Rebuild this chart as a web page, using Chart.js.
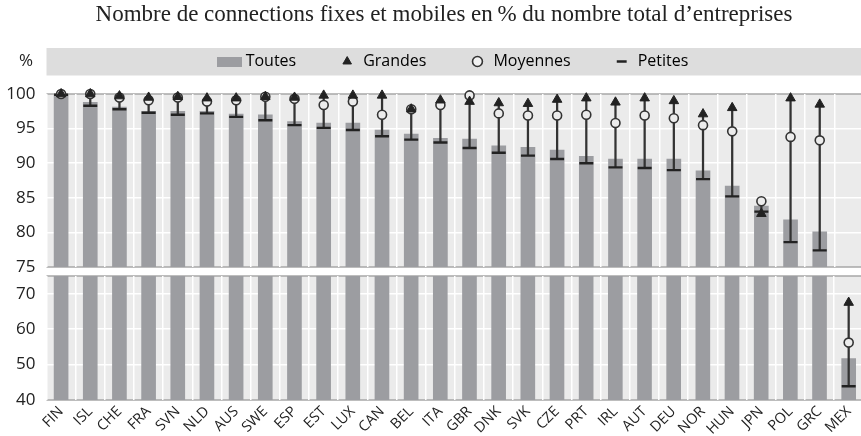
<!DOCTYPE html>
<html>
<head>
<meta charset="utf-8">
<script src="https://cdn.jsdelivr.net/npm/chart.js@4.4.1/dist/chart.umd.min.js"></script>
<style>
  body { margin: 0; background: #fff; }
  #wrap { position: relative; width: 861px; height: 436px; overflow: hidden; }
  #topBox { position: absolute; left: 0; top: 0; width: 864px; height: 272px; }
  #bottomBox { position: absolute; left: 0; top: 272px; width: 864px; height: 164px; }
</style>
</head>
<body>
<div id="wrap">
  <div id="topBox"><canvas id="topChart"></canvas></div>
  <div id="bottomBox"><canvas id="bottomChart"></canvas></div>
</div>
<script>
// Data (values in % of all firms)
const countries = ['FIN', 'ISL', 'CHE', 'FRA', 'SVN', 'NLD', 'AUS', 'SWE', 'ESP', 'EST', 'LUX', 'CAN', 'BEL', 'ITA',
    'GBR', 'DNK', 'SVK', 'CZE', 'PRT', 'IRL', 'AUT', 'DEU', 'NOR', 'HUN', 'JPN', 'POL', 'GRC', 'MEX'];
const toutes = [100, 98.8, 98.1, 97.5, 97.5, 97.5, 97.1, 97.0, 96.0, 95.8, 95.8, 94.8, 94.2, 93.6,
    93.5, 92.5, 92.3, 91.9, 91.0, 90.6, 90.6, 90.6, 88.9, 86.7, 83.8, 81.8, 80.1, 51.7];
const grandes = [100, 100, 99.7, 99.5, 99.6, 99.4, 99.4, 99.6, 99.5, 99.8, 99.8, 99.8, 97.8, 99.1,
    98.9, 98.7, 98.6, 99.2, 99.4, 98.8, 99.4, 99.0, 97.1, 98.0, 82.7, 99.4, 98.5, 67.5];
const moyennes = [100, 100, 99.5, 99.1, 99.5, 98.9, 99.1, 99.6, 99.3, 98.4, 98.9, 97.0, 97.8, 98.4,
    99.8, 97.2, 96.9, 96.9, 97.0, 95.8, 96.9, 96.5, 95.5, 94.6, 84.5, 93.8, 93.3, 56.2];
const petites = [99.9, 98.3, 97.8, 97.3, 97.0, 97.2, 96.7, 96.2, 95.5, 95.1, 94.8, 93.9, 93.4, 93.0,
    92.2, 91.5, 91.1, 90.6, 90.0, 89.4, 89.3, 89.0, 87.7, 85.2, 83.0, 78.6, 77.4, 43.9];

// Axis ticks (broken axis: top panel 75-100, bottom panel 40-75)
const topTicks = [75, 80, 85, 90, 95, 100];
const bottomTicks = [40, 50, 60, 70];

// Colours and fonts
const barColor = '#9c9da1';
const markColor = '#222222';
const panelBg = '#ebebeb';
const bandBg = '#dddddd';
const borderGrey = '#a8a8a8';
const sansFont = "'Open Sans', sans-serif";
Chart.defaults.font.family = sansFont;
Chart.defaults.color = '#222';

// vertical line joining the three size classes of each country
const ranges = countries.map((c, i) => [
    Math.min(petites[i], moyennes[i], grandes[i]),
    Math.max(petites[i], moyennes[i], grandes[i])
]);

// small grey box for the "Toutes" legend entry
const swatch = document.createElement('canvas');
swatch.width = 25;
swatch.height = 10;
const sctx = swatch.getContext('2d');
sctx.fillStyle = barColor;
sctx.fillRect(0, 0, 25, 10);

const legendItems = [
    { text: 'Toutes', pointStyle: swatch, fillStyle: barColor, strokeStyle: barColor, lineWidth: 0 },
    { text: 'Grandes', pointStyle: 'triangle', fillStyle: markColor, strokeStyle: markColor, lineWidth: 1 },
    { text: 'Moyennes', pointStyle: 'circle', fillStyle: '#f2f2f2', strokeStyle: '#333', lineWidth: 1.6 },
    { text: 'Petites', pointStyle: 'line', fillStyle: markColor, strokeStyle: markColor, lineWidth: 2.4 }
];

const buildDatasets = (pointClip) => [
    {
        type: 'line', label: 'Grandes', data: grandes, showLine: false,
        pointStyle: 'triangle', pointRadius: 5.5, pointBackgroundColor: markColor,
        pointBorderColor: markColor, pointBorderWidth: 1, order: 0, clip: pointClip
    },
    {
        type: 'line', label: 'Moyennes', data: moyennes, showLine: false,
        pointStyle: 'circle', pointRadius: 4.5, pointBackgroundColor: '#ececec',
        pointBorderColor: '#333', pointBorderWidth: 1.6, order: 1, clip: pointClip
    },
    {
        type: 'line', label: 'Petites', data: petites, showLine: false,
        pointStyle: 'line', pointRadius: 7, pointBorderColor: markColor,
        pointBorderWidth: 2.4, order: 2, clip: pointClip
    },
    {
        type: 'bar', label: 'range', data: ranges, backgroundColor: '#333',
        barThickness: 1.6, grouped: false, order: 3, clip: 0
    },
    {
        type: 'bar', label: 'Toutes', data: toutes, backgroundColor: barColor,
        barThickness: 14, grouped: false, order: 4, clip: 0
    }
];

// grey panel with its border lines, legend band, "%" label
const panelPlugin = {
    id: 'panel',
    beforeDraw(chart) {
        const { ctx, chartArea: a } = chart;
        ctx.save();
        ctx.fillStyle = panelBg;
        ctx.fillRect(a.left, a.top, a.right - a.left, a.bottom - a.top);
        ctx.strokeStyle = borderGrey;
        ctx.lineWidth = 1.5;
        ctx.beginPath();
        ctx.moveTo(a.left, a.top);
        ctx.lineTo(a.right, a.top);
        ctx.moveTo(a.left, a.bottom);
        ctx.lineTo(a.right, a.bottom);
        ctx.stroke();

        if (chart.options.plugins.legend.display !== false) {
            // legend and title are centred on the plot, not on the canvas
            chart.legend.left = a.left;
            chart.legend.width = chart.legend.right - a.left;
            chart.titleBlock.left = a.left - 22;
            chart.titleBlock.width = chart.titleBlock.right - chart.titleBlock.left;

            const pad = chart.options.plugins.legend.labels.padding;
            const rowY = chart.legend.top + pad;
            ctx.fillStyle = bandBg;
            ctx.fillRect(a.left, rowY - 5.5, a.right - a.left, 27.5);
            ctx.fillStyle = '#222';
            ctx.font = '17px ' + sansFont;
            ctx.textBaseline = 'middle';
            ctx.textAlign = 'left';
            ctx.fillText('%', 19, rowY + 8);
        }
        ctx.restore();
    }
};

const xGrid = { color: '#ffffff', lineWidth: 1.5, drawTicks: false, offset: true };
// white grid lines, except where the panel border already sits
const yGrid = {
    color: (c) => (c.tick && (c.tick.value === c.scale.min || c.tick.value === c.scale.max)) ? 'rgba(0,0,0,0)' : '#ffffff',
    lineWidth: 1.5,
    drawTicks: false
};
const yFit = (s) => {
    s.width = 46.5;
    s.paddingTop = 0;
    s.paddingBottom = 0;
};

// Top panel: 75 - 100 %
const topChart = new Chart(document.getElementById('topChart'), {
    type: 'bar',
    data: { labels: countries, datasets: buildDatasets({ left: 10, right: 10, top: 12, bottom: 0 }) },
    options: {
        responsive: true,
        maintainAspectRatio: false,
        animation: false,
        events: [],
        layout: { autoPadding: false, padding: { left: 0, right: 0.5, top: 0, bottom: 5 } },
        scales: {
            x: {
                position: 'top',
                offset: true,
                grid: xGrid,
                border: { display: false },
                ticks: { display: false },
                afterFit: (s) => { s.height = 14.5; }
            },
            y: {
                min: 75,
                max: 100,
                afterBuildTicks: (s) => { s.ticks = topTicks.map(v => ({ value: v })); },
                ticks: { padding: 11, font: { size: 17 }, color: '#222' },
                grid: yGrid,
                border: { display: false },
                afterFit: yFit
            }
        },
        plugins: {
            title: {
                display: true,
                text: 'Nombre de connections fixes et mobiles en\u202F% du nombre total d\u2019entreprises',
                font: { family: "'Liberation Serif', 'Times New Roman', serif", size: 23, weight: 'normal' },
                color: '#222',
                padding: { top: 1.2, bottom: -18.3 }
            },
            legend: {
                position: 'top',
                labels: {
                    usePointStyle: true,
                    boxHeight: 7,
                    padding: 43,
                    font: { size: 16 },
                    color: '#222',
                    generateLabels: () => legendItems
                }
            },
            tooltip: { enabled: false }
        }
    },
    plugins: [panelPlugin]
});

// Bottom panel: 40 - 75 %
const bottomChart = new Chart(document.getElementById('bottomChart'), {
    type: 'bar',
    data: { labels: countries, datasets: buildDatasets({ left: 10, right: 10, top: 0, bottom: 10 }) },
    options: {
        responsive: true,
        maintainAspectRatio: false,
        animation: false,
        events: [],
        layout: { autoPadding: false, padding: { left: 0, right: 0.5, top: 4, bottom: 0 } },
        scales: {
            x: {
                offset: true,
                grid: xGrid,
                border: { display: false },
                ticks: { autoSkip: false, minRotation: 45, maxRotation: 45, padding: 3, font: { size: 14.5 }, color: '#222' },
                afterFit: (s) => { s.height = 36; }
            },
            y: {
                min: 40,
                max: 75,
                afterBuildTicks: (s) => { s.ticks = bottomTicks.map(v => ({ value: v })); },
                ticks: { padding: 11, font: { size: 17 }, color: '#222' },
                grid: yGrid,
                border: { display: false },
                afterFit: yFit
            }
        },
        plugins: {
            title: { display: false },
            legend: { display: false },
            tooltip: { enabled: false }
        }
    },
    plugins: [panelPlugin]
});

// redraw once the page has settled (first paint can miss the grid)
setTimeout(() => {
    topChart.update();
    bottomChart.update();
}, 150);
</script>
</body>
</html>
